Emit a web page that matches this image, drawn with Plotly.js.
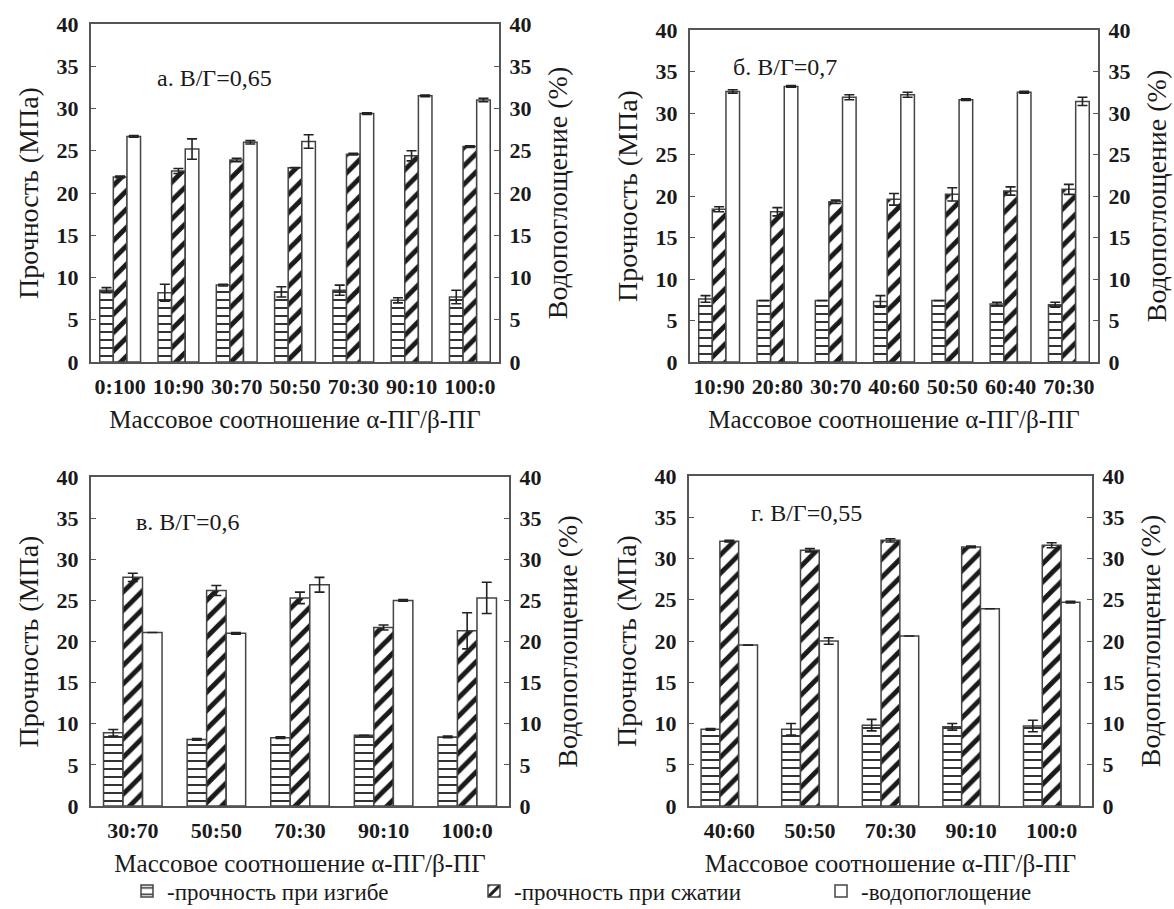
<!DOCTYPE html>
<html><head><meta charset="utf-8">
<script src="https://cdn.plot.ly/plotly-3.0.1.min.js"></script>
<style>html,body{margin:0;padding:0;background:#fff;}#chart{width:1174px;height:909px;}</style>
</head><body><div id="chart"></div>
<script>
// ---- data ----
const catsA = ['0:100','10:90','30:70','50:50','70:30','90:10','100:0'];
const flexA = [8.5, 8.2, 9.1, 8.3, 8.5, 7.3, 7.7];
const flexErrA = [0.3, 1.0, 0.1, 0.6, 0.6, 0.3, 0.8];
const compA = [21.9, 22.6, 23.9, 23.0, 24.6, 24.4, 25.5];
const compErrA = [0.1, 0.3, 0.2, 0.0, 0.1, 0.6, 0.1];
const waterA = [26.7, 25.2, 26.0, 26.1, 29.4, 31.5, 31.0];
const waterErrA = [0.1, 1.2, 0.2, 0.8, 0.1, 0.1, 0.2];

const catsB = ['10:90','20:80','30:70','40:60','50:50','60:40','70:30'];
const flexB = [7.6, 7.4, 7.4, 7.3, 7.4, 7.0, 6.9];
const flexErrB = [0.4, 0.0, 0.0, 0.7, 0.0, 0.2, 0.3];
const compB = [18.4, 18.1, 19.3, 19.6, 20.2, 20.6, 20.8];
const compErrB = [0.3, 0.5, 0.2, 0.7, 0.8, 0.5, 0.6];
const waterB = [32.6, 33.2, 31.9, 32.2, 31.6, 32.5, 31.4];
const waterErrB = [0.2, 0.1, 0.3, 0.3, 0.1, 0.1, 0.5];

const catsC = ['30:70','50:50','70:30','90:10','100:0'];
const flexC = [8.9, 8.1, 8.3, 8.6, 8.4];
const flexErrC = [0.4, 0.1, 0.1, 0.0, 0.1];
const compC = [27.8, 26.2, 25.3, 21.7, 21.3];
const compErrC = [0.5, 0.6, 0.7, 0.3, 2.2];
const waterC = [21.1, 21.0, 26.9, 25.0, 25.3];
const waterErrC = [0.0, 0.1, 0.9, 0.1, 1.9];

const catsD = ['40:60','50:50','70:30','90:10','100:0'];
const flexD = [9.3, 9.3, 9.8, 9.6, 9.7];
const flexErrD = [0.1, 0.7, 0.7, 0.4, 0.7];
const compD = [32.1, 31.0, 32.2, 31.4, 31.6];
const compErrD = [0.1, 0.2, 0.2, 0.1, 0.3];
const waterD = [19.5, 20.0, 20.6, 23.9, 24.7];
const waterErrD = [0.0, 0.4, 0.0, 0.0, 0.1];

const panelLabels = ['а. В/Г=0,65', 'б. В/Г=0,7', 'в. В/Г=0,6', 'г. В/Г=0,55'];
const seriesNames = ['-прочность при изгибе', '-прочность при сжатии', '-водопоглощение'];
const yTitleLeft = 'Прочность (МПа)';
const yTitleRight = 'Водопоглощение (%)';
const xTitle = 'Массовое соотношение α-ПГ/β-ПГ';

// ---- styling ----
const FONT = 'Liberation Serif, Times New Roman, serif';
const TXT = '#1a1a1a';
const LINE = '#555';
const BW = 0.233;
const errStyle = {type: 'data', visible: true, color: '#222', thickness: 1.6, width: 5};

const panels = [
  {cats: catsA, flex: flexA, fe: flexErrA, comp: compA, ce: compErrA, water: waterA, we: waterErrA, x: 'x', yl: 'y', yr: 'y2'},
  {cats: catsB, flex: flexB, fe: flexErrB, comp: compB, ce: compErrB, water: waterB, we: waterErrB, x: 'x2', yl: 'y3', yr: 'y4'},
  {cats: catsC, flex: flexC, fe: flexErrC, comp: compC, ce: compErrC, water: waterC, we: waterErrC, x: 'x3', yl: 'y5', yr: 'y6'},
  {cats: catsD, flex: flexD, fe: flexErrD, comp: compD, ce: compErrD, water: waterD, we: waterErrD, x: 'x4', yl: 'y7', yr: 'y8'}
];

const traces = [];
panels.forEach((p, i) => {
  const show = i === 0;
  traces.push({
    type: 'bar', name: seriesNames[0], legendgroup: 'f', showlegend: show,
    x: p.cats, y: p.flex, xaxis: p.x, yaxis: p.yl, width: BW, offset: -0.35,
    marker: {color: 'white', line: {color: '#444', width: 1.5},
      pattern: {shape: '-', fgcolor: '#333', bgcolor: 'white', size: 8, solidity: 0.25}},
    error_y: Object.assign({array: p.fe}, errStyle)
  });
  traces.push({
    type: 'bar', name: seriesNames[1], legendgroup: 'c', showlegend: show,
    x: p.cats, y: p.comp, xaxis: p.x, yaxis: p.yl, width: BW, offset: -0.117,
    marker: {color: 'white', line: {color: '#444', width: 1.5},
      pattern: {shape: '/', fgcolor: '#1a1a1a', bgcolor: 'white', size: 13, solidity: 0.38}},
    error_y: Object.assign({array: p.ce}, errStyle)
  });
  traces.push({
    type: 'bar', name: seriesNames[2], legendgroup: 'w', showlegend: show,
    x: p.cats, y: p.water, xaxis: p.x, yaxis: p.yr, width: BW, offset: 0.117,
    marker: {color: 'white', line: {color: '#444', width: 1.5}},
    error_y: Object.assign({array: p.we}, errStyle)
  });
});

const W = 1174, H = 909;
const dom = [
  {x: [91, 499], y: [24, 362]},
  {x: [690, 1098], y: [30, 362]},
  {x: [91, 509], y: [477, 806]},
  {x: [689, 1092], y: [476, 806]}
];
const tickFont = {family: FONT, size: 22, color: TXT, weight: 'bold'};
const layout = {
  width: W, height: H, margin: {l: 0, r: 0, t: 0, b: 0, autoexpand: false},
  paper_bgcolor: 'white', plot_bgcolor: 'white',
  barmode: 'overlay', showlegend: true,
  font: {family: FONT, color: TXT},
  legend: {orientation: 'h', x: 127 / W, xanchor: 'left', y: -0.004, yanchor: 'bottom',
    font: {family: FONT, size: 23, color: TXT}, itemwidth: 30, tracegroupgap: 0,
    entrywidth: 302, entrywidthmode: 'pixels'},
  annotations: []
};
const xNames = ['xaxis', 'xaxis2', 'xaxis3', 'xaxis4'];
const yl = ['yaxis', 'yaxis3', 'yaxis5', 'yaxis7'];
const yr = ['yaxis2', 'yaxis4', 'yaxis6', 'yaxis8'];
const ylId = ['y', 'y3', 'y5', 'y7'];
const xId = ['x', 'x2', 'x3', 'x4'];
dom.forEach((d, i) => {
  const xd = [d.x[0] / W, d.x[1] / W];
  const yd = [1 - d.y[1] / H, 1 - d.y[0] / H];
  layout[xNames[i]] = {
    domain: xd, anchor: ylId[i], type: 'category', showgrid: false, zeroline: false,
    showline: true, mirror: true, linecolor: LINE, linewidth: 2, ticks: '',
    tickfont: tickFont, ticklabelstandoff: 4,
    title: {text: xTitle, font: {family: FONT, size: 25, color: TXT}, standoff: 12}
  };
  layout[yl[i]] = {
    domain: yd, anchor: xId[i], range: [0, 40], dtick: 5, showgrid: false, zeroline: false,
    showline: true, linecolor: LINE, linewidth: 2, ticks: 'inside', ticklen: 5, tickcolor: LINE,
    tickfont: tickFont, ticklabelstandoff: 6,
    title: {text: yTitleLeft, font: {family: FONT, size: 28, color: TXT}, standoff: 10}
  };
  layout[yr[i]] = {
    overlaying: ylId[i], anchor: xId[i], side: 'right', range: [0, 40], dtick: 5,
    showgrid: false, zeroline: false,
    showline: true, linecolor: LINE, linewidth: 2, ticks: 'inside', ticklen: 5, tickcolor: LINE,
    tickfont: tickFont, ticklabelstandoff: 4,
    title: {text: yTitleRight, font: {family: FONT, size: 28, color: TXT}, standoff: 17}
  };
});
const annPos = [[214, 78], [785, 67], [187, 522], [806, 513]];
annPos.forEach((a, i) => {
  layout.annotations.push({
    xref: 'paper', yref: 'paper', x: a[0] / W, y: 1 - a[1] / H, xanchor: 'center', yanchor: 'middle',
    text: panelLabels[i], showarrow: false, font: {family: FONT, size: 24, color: TXT}
  });
});

Plotly.newPlot('chart', traces, layout, {displayModeBar: false, staticPlot: true});
</script>
</body></html>
